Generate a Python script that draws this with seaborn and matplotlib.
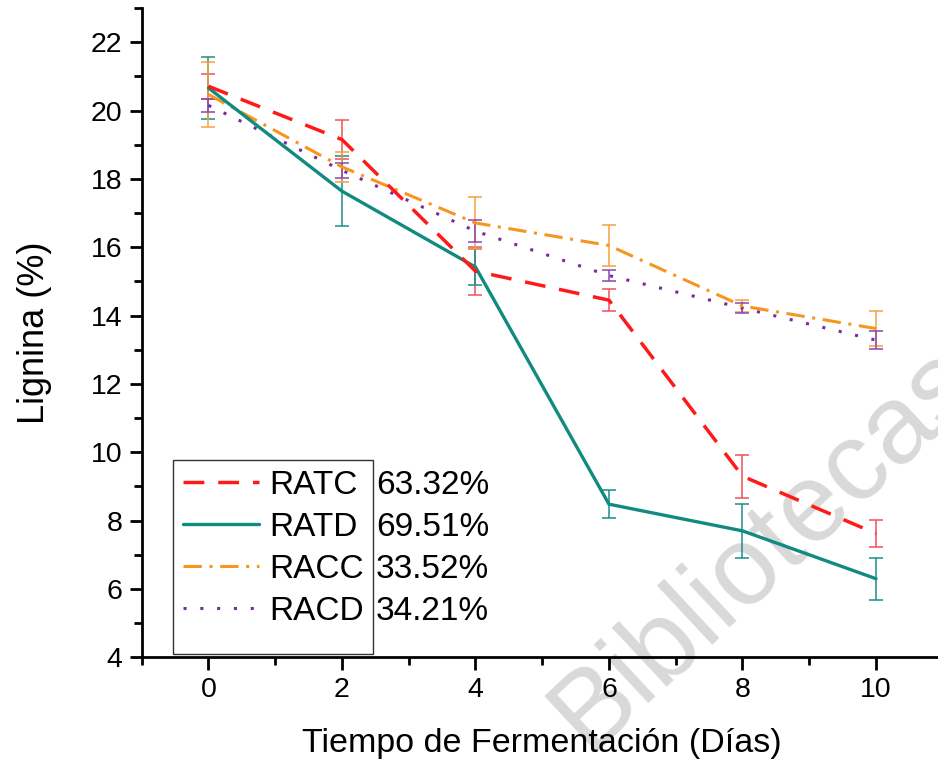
import numpy as np
import pandas as pd
import matplotlib
matplotlib.use("Agg")
import matplotlib.pyplot as plt
from matplotlib.ticker import MultipleLocator
from matplotlib.patches import Rectangle
import seaborn as sns

# ---------------- data ----------------
dias = [0, 2, 4, 6, 8, 10]
ratc = [20.71, 19.15, 15.30, 14.45, 9.30, 7.62]
ratc_err = [0.37, 0.56, 0.70, 0.33, 0.63, 0.40]
ratd = [20.66, 17.64, 15.42, 8.48, 7.70, 6.30]
ratd_err = [0.91, 1.03, 0.54, 0.41, 0.80, 0.62]
racc = [20.47, 18.35, 16.71, 16.05, 14.28, 13.62]
racc_err = [0.95, 0.45, 0.76, 0.61, 0.17, 0.52]
racd = [20.15, 18.25, 16.47, 15.17, 14.22, 13.28]
racd_err = [0.18, 0.22, 0.33, 0.15, 0.15, 0.26]
series_names = ["RATC", "RATD", "RACC", "RACD"]
porcentajes = ["63.32%", "69.51%", "33.52%", "34.21%"]

values = {"RATC": ratc, "RATD": ratd, "RACC": racc, "RACD": racd}
errors = {"RATC": ratc_err, "RATD": ratd_err, "RACC": racc_err, "RACD": racd_err}

df = pd.DataFrame({
    "dia": np.tile(dias, len(series_names)),
    "lignina": np.concatenate([values[n] for n in series_names]),
    "err": np.concatenate([errors[n] for n in series_names]),
    "muestra": np.repeat(series_names, len(dias)),
})

colors = {"RATC": "#ff1a1a", "RATD": "#118a80", "RACC": "#f7961e", "RACD": "#7a2a9e"}
errcolors = {"RATC": "#f0505c", "RATD": "#1a9088", "RACC": "#f7a040", "RACD": "#8a45b0"}
dashes = {"RATC": (6, 4), "RATD": (None, None), "RACC": (6, 2.5, 1, 2.5), "RACD": (1, 4.5)}
widths = {"RATC": 2.5, "RATD": 2.4, "RACC": 2.2, "RACD": 2.2}

# ---------------- style ----------------
sns.set_style("ticks")
plt.rcParams["font.family"] = ["Liberation Sans", "DejaVu Sans"]
plt.rcParams["text.color"] = "black"
plt.rcParams["axes.labelcolor"] = "black"

W, H = 938, 761
fig = plt.figure(figsize=(W / 100, H / 100), dpi=100)
ax_left, ax_right = 141.7, 942.75
ax_top, ax_bot = 8.0, 657.3
ax = fig.add_axes([ax_left / W, 1 - ax_bot / H, (ax_right - ax_left) / W, (ax_bot - ax_top) / H])
ax.set_facecolor("none")

# error bars
for n in series_names:
    sub = df[df["muestra"] == n]
    ax.errorbar(sub["dia"], sub["lignina"], yerr=sub["err"], fmt="none",
                ecolor=errcolors[n], elinewidth=1.1, capsize=4.7, capthick=1.1, zorder=2)

# lines (drawn back to front)
for n in ["RACD", "RACC", "RATD", "RATC"]:
    sub = df[df["muestra"] == n]
    sns.lineplot(data=sub, x="dia", y="lignina", ax=ax, color=colors[n],
                 linewidth=widths[n], label=n, zorder=3, errorbar=None)
    line = ax.lines[-1]
    if dashes[n][0] is not None:
        line.set_dashes(dashes[n])

ax.set_xlim(-1, 11)
ax.set_ylim(4, 23)
ax.xaxis.set_major_locator(MultipleLocator(2))
ax.xaxis.set_minor_locator(MultipleLocator(1))
ax.yaxis.set_major_locator(MultipleLocator(2))
ax.yaxis.set_minor_locator(MultipleLocator(1))
ax.set_yticks(np.arange(4, 23, 2))

sns.despine(ax=ax)
for s in ["left", "bottom"]:
    ax.spines[s].set_linewidth(2.0)
    ax.spines[s].set_color("black")
ax.tick_params(which="major", direction="out", length=9, width=2.0, labelsize=20.5,
               colors="black", pad=5)
ax.tick_params(which="minor", direction="out", length=6, width=2.0, colors="black")

ax.set_xlabel("Tiempo de Fermentación (Días)", fontsize=24.5, labelpad=18)
ax.set_ylabel("Lignina (%)", fontsize=26, labelpad=28)

# legend
handles, labels = ax.get_legend_handles_labels()
order = [labels.index(n) for n in series_names]
leg = ax.legend([handles[i] for i in order], [labels[i] for i in order],
                loc="upper left", bbox_to_anchor=(176 / W, 1 - 463 / H),
                bbox_transform=fig.transFigure, frameon=False, fontsize=24,
                borderaxespad=0, borderpad=0.2, handlelength=2.3,
                handletextpad=0.3, labelspacing=0.33)
for t in leg.get_texts():
    t.set_color("black")

fig.add_artist(Rectangle((173 / W, 1 - 654 / H), 200 / W, 194 / H,
                         transform=fig.transFigure, fill=False,
                         edgecolor="#333333", linewidth=1.0, zorder=5))

fig.canvas.draw()
for t, pct in zip(leg.get_texts(), porcentajes):
    bb = t.get_window_extent()
    fig.text(376 / W, bb.y0 / fig.bbox.height, pct, fontsize=24, color="black",
             ha="left", va="bottom")

# watermark
fig.text(765 / W, 1 - 548 / H, "Bibliotecas", rotation=43, fontsize=80,
         color="#d9d9d9", ha="center", va="center", rotation_mode="anchor", zorder=-1)

fig.savefig("out.png", dpi=100)
